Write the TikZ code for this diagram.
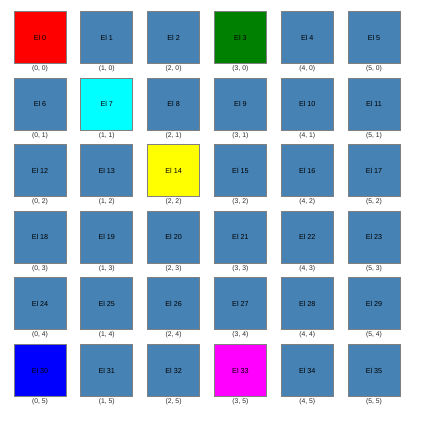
\documentclass[tikz,border=0pt]{standalone}
\usepackage{fontspec}
\setmainfont{Liberation Sans}
\definecolor{steel}{HTML}{4682B4}
\definecolor{edgegray}{HTML}{808080}
\definecolor{cred}{HTML}{FF0000}
\definecolor{cgreen}{HTML}{008000}
\definecolor{ccyan}{HTML}{00FFFF}
\definecolor{cyel}{HTML}{FFFF00}
\definecolor{cblue}{HTML}{0000FF}
\definecolor{cmag}{HTML}{FF00FF}
\begin{document}
\begin{tikzpicture}[x=1pt,y=-1pt,
  cell/.style={draw=edgegray,line width=0.9pt,minimum size=52pt,inner sep=0pt,fill=steel,text=black,font=\fontsize{7.2}{8}\selectfont},
  coordlabel/.style={font=\fontsize{6.8}{8}\selectfont,inner sep=0pt,text=black!85}]
\useasboundingbox (0,0) rectangle (427,422);
\foreach \j in {0,...,5}{
  \foreach \i in {0,...,5}{
    \pgfmathtruncatemacro{\n}{\j*6+\i}
    \pgfmathsetmacro{\cx}{40+66.8*\i}
    \pgfmathsetmacro{\cy}{37.5+66.6*\j}
    \def\fc{steel}
    \ifnum\n=0 \def\fc{cred}\fi
    \ifnum\n=3 \def\fc{cgreen}\fi
    \ifnum\n=7 \def\fc{ccyan}\fi
    \ifnum\n=14 \def\fc{cyel}\fi
    \ifnum\n=30 \def\fc{cblue}\fi
    \ifnum\n=33 \def\fc{cmag}\fi
    \node[cell,fill=\fc] (c\n) at (\cx,\cy) {El \n};
    \node[coordlabel,anchor=north] (l\n) at ([yshift=-1.5pt]c\n.south) {(\i, \j)};
  }
}
\end{tikzpicture}
\end{document}
